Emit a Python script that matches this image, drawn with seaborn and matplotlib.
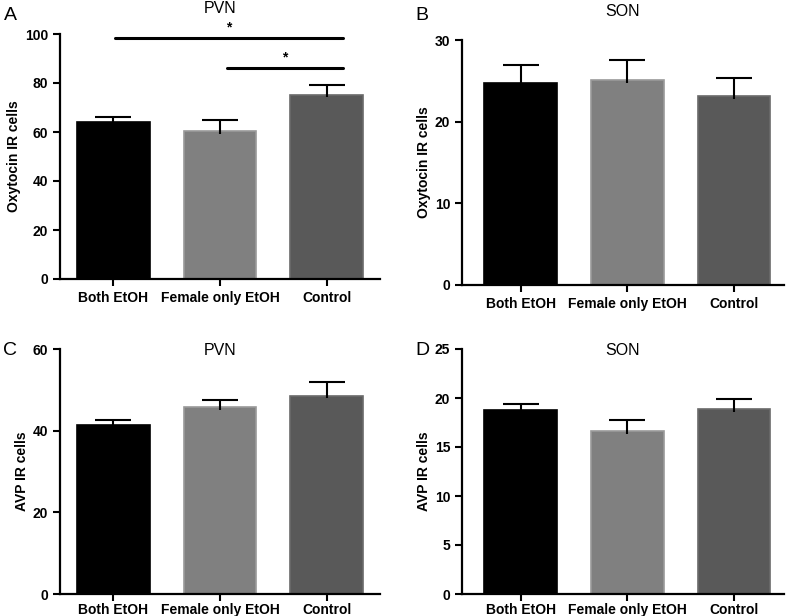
import numpy as np
import pandas as pd
import matplotlib
matplotlib.use("Agg")
import matplotlib.pyplot as plt
import seaborn as sns

# ==========================================
# DATA
# ==========================================

groups = ["Both EtOH", "Female only EtOH", "Control"]

oxt_pvn_mean = [64.0, 60.3, 75.3]
oxt_pvn_sem = [2.0, 4.5, 3.7]

oxt_son_mean = [24.7, 25.1, 23.1]
oxt_son_sem = [2.3, 2.4, 2.3]

avp_pvn_mean = [41.4, 45.9, 48.6]
avp_pvn_sem = [1.2, 1.6, 3.2]

avp_son_mean = [18.8, 16.6, 18.9]
avp_son_sem = [0.6, 1.2, 1.0]

# significance bars for panel A: (from group, to group, height)
sig_from = [0.02, 1.07]
sig_to = [2.15, 2.15]
sig_y = [98.4, 86.1]

fills = ["#000000", "#808080", "#595959"]
edges = ["#000000", "#9a9a9a", "#6a6a6a"]

sns.set_style("ticks", {"axes.edgecolor": "black", "xtick.color": "black",
                        "ytick.color": "black", "text.color": "black",
                        "axes.labelcolor": "black"})
plt.rcParams["font.family"] = ["Liberation Sans", "DejaVu Sans"]

W, H = 788, 616
fig = plt.figure(figsize=(W / 100, H / 100), dpi=100)


def make_ax(left, top, right, bottom):
    return fig.add_axes([left / W, 1 - bottom / H, (right - left) / W, (bottom - top) / H])


def panel(ax, means, sems, ymax, yticks, ylabel, title, xlim, title_y, xpad):
    df = pd.DataFrame({"group": groups, "value": means})
    sns.barplot(data=df, x="group", y="value", hue="group", palette=fills,
                width=0.68, errorbar=None, legend=False, ax=ax, zorder=2)
    for patch, ec in zip(ax.patches, edges):
        patch.set_edgecolor(ec)
        patch.set_linewidth(1.2)
    # SEM, upper half only
    dip = ymax * 0.012
    _, caps, _ = ax.errorbar(np.arange(len(groups)), np.array(means) - dip,
                             yerr=[np.zeros(len(sems)), np.array(sems) + dip],
                             fmt="none", ecolor="black", elinewidth=1.5,
                             capsize=13, capthick=1.5, zorder=3)
    caps[0].set_visible(False)
    ax.set_ylim(0, ymax)
    ax.set_xlim(*xlim)
    ax.set_yticks(yticks)
    ax.set_xlabel("")
    ax.set_ylabel(ylabel, fontsize=10, fontweight="bold", labelpad=2.5)
    ax.tick_params(axis="both", width=1.5, length=5, labelsize=10)
    ax.tick_params(axis="x", pad=xpad)
    for lab in ax.get_xticklabels() + ax.get_yticklabels():
        lab.set_fontweight("bold")
    for side in ["left", "bottom"]:
        ax.spines[side].set_linewidth(1.6)
    sns.despine(ax=ax)
    ax.text(0.5, title_y, title, transform=ax.transAxes, ha="center",
            va="center", fontsize=11.5)


# ==========================================
# A - Oxytocin PVN
# ==========================================
axA = make_ax(60, 34, 380, 279)
panel(axA, oxt_pvn_mean, oxt_pvn_sem, 100, [0, 20, 40, 60, 80, 100],
      "Oxytocin IR cells", "PVN", (-0.5, 2.5), 1.106, 3.5)
for x0, x1, y in zip(sig_from, sig_to, sig_y):
    axA.plot([x0, x1], [y, y], color="black", lw=2.2, clip_on=False, zorder=4)
    axA.text((x0 + x1) / 2, y + 4.2, "*", ha="center", va="center",
             fontsize=10, fontweight="bold")

# ==========================================
# B - Oxytocin SON
# ==========================================
axB = make_ax(462, 40, 784, 285)
panel(axB, oxt_son_mean, oxt_son_sem, 30, [0, 10, 20, 30],
      "Oxytocin IR cells", "SON", (-0.55, 2.47), 1.118, 3.5)

# ==========================================
# C - AVP PVN
# ==========================================
axC = make_ax(60, 349, 380, 594)
panel(axC, avp_pvn_mean, avp_pvn_sem, 60, [0, 20, 40, 60],
      "AVP IR cells", "PVN", (-0.5, 2.5), 0.995, 1.3)

# ==========================================
# D - AVP SON
# ==========================================
axD = make_ax(462, 349, 784, 594)
panel(axD, avp_son_mean, avp_son_sem, 25, [0, 5, 10, 15, 20, 25],
      "AVP IR cells", "SON", (-0.55, 2.47), 0.995, 1.3)

# panel letters
for letter, (px, py) in zip("ABCD", [(10, 15), (422, 15), (10, 350), (422, 350)]):
    fig.text(px / W, 1 - py / H, letter, ha="center", va="center", fontsize=14)

fig.savefig("out.png", dpi=100)
